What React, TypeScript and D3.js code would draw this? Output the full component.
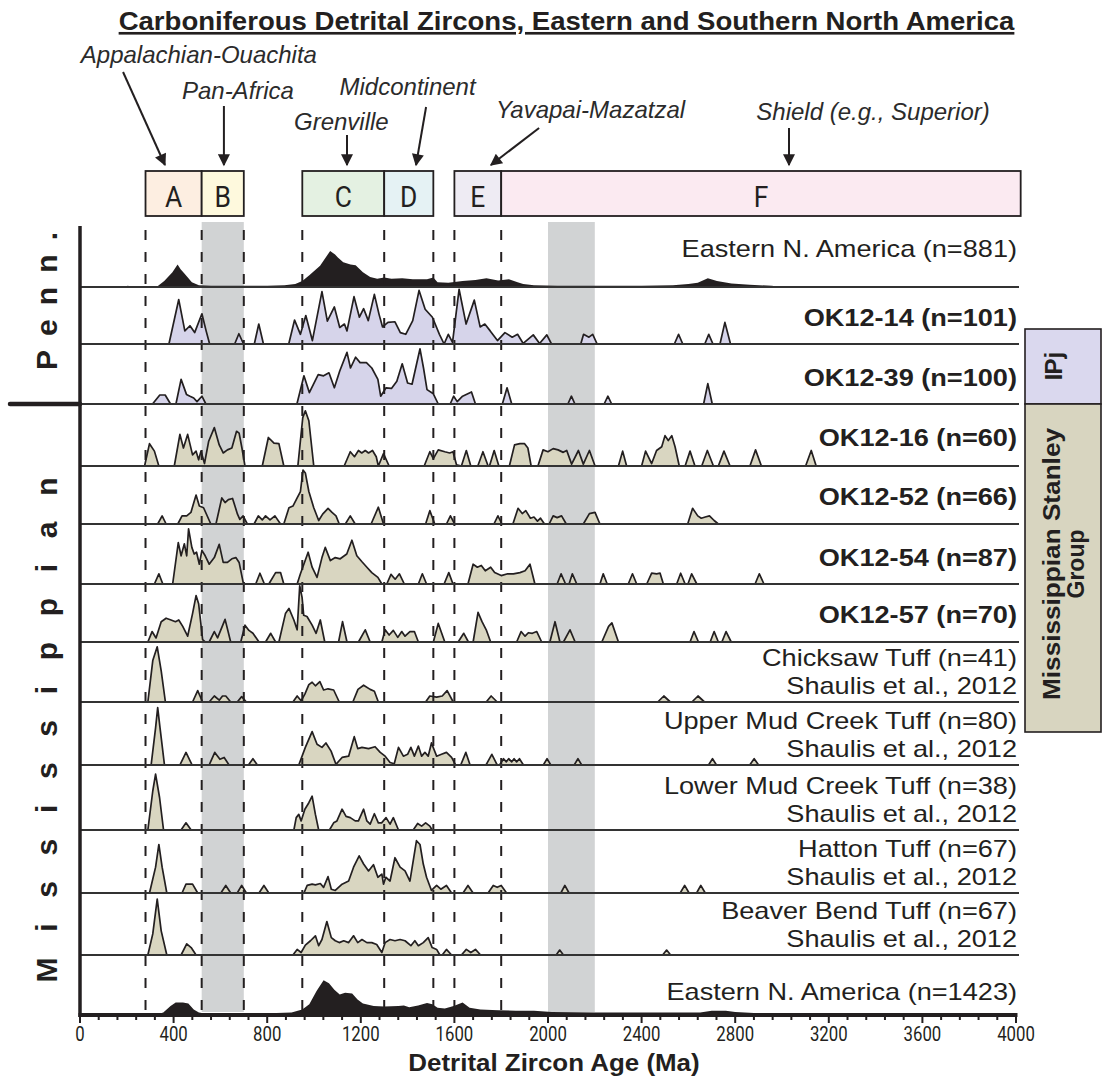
import React from "react";
import * as d3 from "d3";

// ---------------- DATA ----------------
const ageTicks = [0, 400, 800, 1200, 1600, 2000, 2400, 2800, 3200, 3600, 4000];
const minorTickStep = 80;

const provinceNames = ["A", "B", "C", "D", "E", "F"];
const provinceStart = [280, 520, 950, 1300, 1600, 1800];
const provinceEnd = [520, 700, 1300, 1510, 1800, 4020];

const boundaryAges = [280, 520, 700, 950, 1300, 1510, 1600, 1800];
const highlightBands: [number, number][] = [[520, 700], [2000, 2200]];

const sourceLabels = ["Appalachian-Ouachita", "Pan-Africa", "Grenville", "Midcontinent", "Yavapai-Mazatzal", "Shield (e.g., Superior)"];
const sourceLabelAge = [508, 675, 1117, 1400, 2182, 3389];
const sourceArrowFromAge = [184, 615, 1141, 1479, 1962, 3030];
const sourceArrowToAge = [363, 615, 1141, 1436, 1756, 3030];

const sampleLabels = [
  "Eastern N. America (n=881)", "OK12-14 (n=101)", "OK12-39 (n=100)", "OK12-16 (n=60)",
  "OK12-52 (n=66)", "OK12-54 (n=87)", "OK12-57 (n=70)", "Chicksaw Tuff (n=41)",
  "Upper Mud Creek Tuff (n=80)", "Lower Mud Creek Tuff (n=38)", "Hatton Tuff (n=67)",
  "Beaver Bend Tuff (n=67)", "Eastern N. America (n=1423)",
];
const sampleSources = ["", "", "", "", "", "", "", "Shaulis et al., 2012", "Shaulis et al., 2012", "Shaulis et al., 2012", "Shaulis et al., 2012", "Shaulis et al., 2012", ""];
const sampleGroups = ["ref", "penn", "penn", "miss", "miss", "miss", "miss", "tuff", "tuff", "tuff", "tuff", "tuff", "ref"];

// relative probability density: [age (Ma), density 0..1]
const eastern881 = [[150,0],[190,0.01],[205,0.02],[225,0],[330,0.01],[360,0.1],[395,0.25],[417,0.38],[430,0.3],[448,0.22],[478,0.08],[508,0.03],[560,0.02],[700,0.02],[800,0.02],[874,0.03],[920,0.05],[950,0.1],[980,0.2],[1026,0.36],[1050,0.5],[1069,0.61],[1090,0.55],[1102,0.5],[1125,0.42],[1156,0.38],[1178,0.37],[1209,0.25],[1240,0.17],[1270,0.14],[1300,0.16],[1331,0.14],[1377,0.15],[1422,0.13],[1483,0.13],[1510,0.16],[1528,0.08],[1574,0.07],[1635,0.1],[1690,0.12],[1737,0.15],[1787,0.11],[1833,0.13],[1870,0.08],[1894,0.05],[1940,0.03],[2040,0.02],[2200,0.02],[2400,0.02],[2534,0.03],[2600,0.05],[2640,0.07],[2683,0.15],[2722,0.1],[2784,0.06],[2862,0.04],[2956,0.02],[3000,0]];
const ok1214 = [[380,0],[422,0.78],[448,0.23],[470,0.32],[490,0.2],[521,0.53],[539,0.23],[554,0],[661,0],[679,0.18],[699,0],[745,0],[764,0.35],[784,0],[892,0],[917,0.42],[942,0.17],[965,0.5],[993,0.06],[1034,0.92],[1057,0.4],[1087,0.65],[1110,0.29],[1130,0.35],[1141,0.23],[1171,0.83],[1194,0.47],[1212,0.62],[1232,0.41],[1258,0.87],[1278,0.52],[1293,0.3],[1316,0.38],[1346,0.39],[1369,0.2],[1392,0.17],[1422,0.41],[1449,0.94],[1475,0.61],[1506,0.47],[1536,0.17],[1556,0],[1574,0.17],[1592,0.03],[1620,0.96],[1650,0.35],[1685,0.77],[1710,0.3],[1730,0.35],[1753,0.23],[1784,0.06],[1816,0.2],[1847,0.12],[1870,0.17],[1894,0.01],[1937,0.16],[1964,0.01],[1995,0.16],[2015,0],[2140,0],[2152,0.17],[2175,0.12],[2191,0.17],[2210,0],[2540,0],[2558,0.17],[2576,0],[2670,0],[2687,0.17],[2705,0],[2735,0],[2756,0.38],[2780,0]];
const ok1239 = [[310,0],[341,0.15],[364,0.15],[387,0],[410,0],[432,0.41],[455,0.16],[470,0.13],[486,0.1],[500,0.04],[521,0.13],[538,0],[927,0],[957,0.47],[980,0.19],[1018,0.49],[1041,0.47],[1064,0.52],[1087,0.27],[1110,0.55],[1141,0.86],[1156,0.6],[1178,0.78],[1197,0.69],[1224,0.69],[1247,0.6],[1273,0.41],[1285,0.13],[1308,0.27],[1331,0.26],[1354,0.38],[1377,0.67],[1400,0.35],[1419,0.33],[1453,0.92],[1468,0.6],[1483,0.24],[1510,0.17],[1531,0],[1582,0],[1597,0.13],[1612,0.04],[1635,0.13],[1673,0.2],[1690,0],[1805,0],[1825,0.27],[1845,0],[2085,0],[2100,0.13],[2115,0],[2240,0],[2256,0.13],[2272,0],[2665,0],[2683,0.34],[2702,0]];
const ok1216 = [[276,0],[297,0.36],[318,0.24],[337,0],[403,0],[427,0.51],[442,0.29],[460,0.51],[481,0.18],[496,0.24],[507,0.1],[517,0.24],[532,0.04],[550,0.4],[574,0.62],[595,0.34],[612,0.21],[630,0.26],[649,0.29],[669,0.56],[680,0.53],[692,0.29],[705,0],[779,0],[805,0.46],[829,0.37],[850,0.36],[871,0],[931,0],[952,0.78],[963,0.89],[978,0.73],[999,0],[1129,0],[1155,0.23],[1173,0.15],[1190,0.25],[1204,0.21],[1219,0.25],[1233,0.21],[1250,0.25],[1266,0.15],[1275,0],[1297,0.2],[1321,0],[1471,0],[1495,0.23],[1510,0.12],[1531,0.26],[1559,0.23],[1580,0.21],[1594,0.23],[1609,0.02],[1630,0],[1651,0.25],[1670,0],[1700,0],[1722,0.23],[1744,0],[1750,0],[1770,0.25],[1790,0],[1835,0],[1857,0.34],[1880,0.36],[1900,0.36],[1914,0.29],[1928,0],[1957,0],[1979,0.26],[2000,0.23],[2022,0.28],[2043,0.26],[2065,0.22],[2080,0.25],[2101,0.03],[2130,0.25],[2151,0.03],[2177,0.25],[2201,0],[2301,0],[2319,0.24],[2336,0],[2400,0],[2417,0.24],[2443,0.04],[2464,0.25],[2486,0.31],[2500,0.49],[2514,0.41],[2529,0.49],[2543,0.31],[2561,0],[2586,0],[2607,0.24],[2628,0],[2657,0],[2681,0.25],[2707,0],[2728,0],[2752,0.24],[2778,0],[2863,0],[2887,0.26],[2912,0],[3101,0],[3125,0.25],[3146,0]];
const ok1252 = [[332,0],[351,0.14],[368,0],[418,0],[436,0.14],[456,0.14],[474,0.2],[496,0.5],[510,0.31],[528,0.28],[559,0],[581,0],[606,0.45],[620,0.37],[634,0.42],[652,0.44],[673,0.17],[683,0.08],[697,0.14],[715,0],[744,0],[762,0.14],[779,0.07],[793,0.14],[812,0.07],[833,0.14],[857,0],[871,0],[893,0.28],[910,0.31],[928,0.45],[942,0.56],[953,0.93],[963,0.88],[978,0.56],[999,0.28],[1020,0.06],[1037,0.17],[1060,0.27],[1077,0.2],[1094,0.14],[1108,0],[1134,0],[1155,0.14],[1176,0],[1244,0],[1275,0.29],[1297,0],[1477,0],[1495,0.23],[1516,0],[1566,0],[1583,0.14],[1601,0],[1769,0],[1786,0.14],[1803,0],[1850,0],[1872,0.27],[1890,0.18],[1905,0.23],[1925,0.1],[1940,0.12],[1955,0.05],[1968,0.1],[1985,0],[2005,0],[2022,0.14],[2039,0.11],[2058,0.14],[2078,0],[2151,0],[2177,0.18],[2201,0.2],[2222,0],[2597,0],[2618,0.27],[2640,0.14],[2655,0.1],[2672,0.12],[2690,0.14],[2710,0.06],[2728,0]];
const ok1254 = [[318,0],[337,0.17],[354,0],[396,0],[420,0.69],[432,0.47],[446,0.67],[456,0.47],[464,0.92],[478,0.61],[488,0.5],[498,0.53],[510,0.33],[521,0.56],[535,0.47],[552,0.33],[574,0.44],[595,0.66],[612,0.36],[630,0.36],[649,0.42],[666,0.44],[680,0.36],[697,0.03],[705,0],[751,0],[769,0.18],[788,0],[807,0],[836,0.19],[857,0.19],[871,0],[928,0],[942,0.17],[952,0.28],[975,0.53],[992,0.28],[1013,0.11],[1034,0.44],[1048,0.61],[1070,0.39],[1091,0.44],[1112,0.42],[1140,0.5],[1162,0.73],[1183,0.47],[1205,0.37],[1226,0.28],[1247,0.19],[1273,0.11],[1290,0],[1311,0],[1329,0.16],[1347,0.08],[1365,0.17],[1386,0],[1446,0],[1463,0.17],[1481,0],[1556,0],[1576,0.19],[1594,0],[1658,0],[1680,0.33],[1698,0.28],[1715,0.31],[1732,0.22],[1755,0.28],[1772,0.19],[1800,0.14],[1828,0.17],[1852,0.17],[1880,0.19],[1902,0.22],[1923,0.33],[1944,0],[2039,0],[2056,0.17],[2075,0],[2090,0],[2104,0.17],[2123,0],[2222,0],[2236,0.17],[2253,0],[2343,0],[2361,0.17],[2379,0],[2422,0],[2443,0.18],[2464,0.17],[2479,0.18],[2493,0],[2550,0],[2567,0.18],[2586,0],[2598,0],[2614,0.17],[2636,0],[2885,0],[2903,0.17],[2923,0]];
const ok1257 = [[290,0],[308,0.18],[325,0.07],[347,0.35],[368,0.41],[389,0.38],[408,0.35],[422,0.38],[439,0.27],[460,0.1],[481,0.49],[496,0.8],[507,0.66],[524,0.04],[535,0],[552,0],[574,0.18],[588,0.07],[620,0.39],[644,0],[687,0],[705,0.29],[722,0.2],[739,0.15],[765,0],[793,0],[815,0.15],[836,0],[850,0],[878,0.49],[893,0.58],[914,0.38],[928,0.21],[939,0.97],[949,0.77],[956,0.46],[970,0.44],[992,0.29],[1009,0.15],[1027,0.38],[1046,0],[1105,0],[1122,0.35],[1141,0],[1190,0],[1219,0.21],[1240,0],[1290,0],[1304,0.21],[1321,0.12],[1339,0.2],[1358,0.08],[1375,0.18],[1389,0.1],[1410,0.18],[1429,0.18],[1446,0],[1510,0],[1531,0.32],[1559,0],[1616,0],[1640,0.15],[1660,0],[1680,0],[1701,0.51],[1718,0.35],[1736,0.21],[1755,0],[1866,0],[1885,0.18],[1902,0.1],[1916,0.16],[1933,0.15],[1952,0.18],[1973,0],[2008,0],[2030,0.35],[2051,0],[2066,0],[2094,0.21],[2116,0],[2230,0],[2259,0.27],[2273,0.33],[2301,0],[2607,0],[2624,0.18],[2643,0],[2693,0],[2710,0.18],[2728,0],[2743,0],[2761,0.18],[2783,0]];
const chicksaw = [[290,0],[311,0.69],[330,0.92],[347,0.52],[365,0],[481,0],[503,0.19],[524,0],[552,0],[574,0.1],[595,0.03],[609,0.1],[623,0.1],[644,0],[672,0],[691,0.09],[711,0],[910,0],[928,0.1],[945,0.02],[961,0.13],[978,0.29],[992,0.33],[1006,0.27],[1025,0.34],[1041,0.2],[1060,0.22],[1084,0.2],[1108,0],[1166,0],[1188,0.21],[1212,0.28],[1240,0.21],[1258,0.18],[1275,0],[1477,0],[1495,0.1],[1524,0.08],[1548,0.1],[1569,0.19],[1595,0],[1736,0],[1757,0.1],[1783,0],[2469,0],[2495,0.1],[2523,0],[2615,0],[2641,0.1],[2669,0]];
const upperMudCreek = [[304,0],[323,0.59],[332,0.91],[342,0.59],[361,0],[427,0],[453,0.2],[479,0],[552,0],[576,0.2],[598,0.09],[616,0.12],[637,0],[720,0],[739,0.1],[758,0],[935,0],[963,0.28],[992,0.53],[1013,0.33],[1034,0.28],[1051,0.35],[1073,0.22],[1094,0.01],[1120,0.12],[1148,0.14],[1172,0.45],[1187,0.26],[1205,0.28],[1233,0.26],[1261,0.29],[1283,0.2],[1304,0.14],[1325,0.04],[1343,0.02],[1361,0.28],[1382,0.14],[1400,0.17],[1414,0.28],[1429,0.14],[1446,0.3],[1460,0.14],[1474,0.2],[1488,0.14],[1502,0.35],[1524,0.14],[1545,0.17],[1566,0.2],[1588,0.12],[1605,0],[1627,0],[1649,0.2],[1667,0],[1735,0],[1760,0.17],[1783,0],[1793,0],[1810,0.1],[1822,0.05],[1832,0.1],[1845,0.05],[1855,0.1],[1866,0.05],[1878,0.1],[1895,0],[1980,0],[1996,0.1],[2012,0],[2112,0],[2128,0.1],[2144,0],[2686,0],[2703,0.1],[2720,0],[2862,0],[2881,0.1],[2900,0]];
const lowerMudCreek = [[290,0],[311,0.6],[323,0.86],[340,0.5],[357,0],[432,0],[453,0.11],[475,0],[914,0],[924,0.19],[935,0.24],[945,0.14],[961,0.32],[978,0.42],[992,0.52],[1006,0.24],[1020,0],[1066,0],[1084,0.11],[1098,0.14],[1120,0.32],[1137,0.21],[1155,0.19],[1176,0.14],[1190,0.14],[1212,0.32],[1226,0.14],[1240,0.09],[1258,0.25],[1275,0.11],[1289,0.11],[1308,0.19],[1325,0.09],[1339,0.19],[1361,0],[1424,0],[1443,0.1],[1460,0.06],[1477,0.11],[1495,0.06],[1505,0]];
const hatton = [[297,0],[323,0.41],[337,0.77],[351,0.41],[371,0],[436,0],[453,0.14],[481,0.14],[503,0],[602,0],[623,0.12],[644,0],[672,0],[691,0.12],[711,0],[765,0],[786,0.12],[807,0],[957,0],[971,0.12],[992,0.14],[1006,0.13],[1027,0.15],[1041,0.09],[1060,0.26],[1074,0.06],[1091,0.04],[1120,0.14],[1148,0.19],[1169,0.41],[1193,0.59],[1212,0.46],[1233,0.35],[1254,0.45],[1273,0.25],[1290,0.3],[1297,0.14],[1307,0.25],[1325,0.19],[1346,0.56],[1368,0.41],[1389,0.35],[1410,0.19],[1438,0.83],[1453,0.77],[1467,0.46],[1481,0.25],[1502,0.04],[1524,0.12],[1542,0.06],[1566,0.12],[1588,0],[1637,0],[1658,0.12],[1680,0],[1744,0],[1766,0.12],[1783,0.09],[1800,0.12],[1823,0],[2055,0],[2072,0.12],[2090,0],[2565,0],[2584,0.12],[2603,0],[2635,0],[2653,0.12],[2672,0]];
const beaverBend = [[290,0],[311,0.34],[330,0.9],[347,0.39],[371,0],[432,0],[456,0.18],[475,0.12],[496,0],[910,0],[928,0.09],[945,0.04],[963,0.16],[985,0.23],[1006,0.31],[1020,0.15],[1034,0.25],[1055,0.54],[1074,0.28],[1091,0.23],[1108,0.2],[1127,0.23],[1148,0.2],[1169,0.31],[1187,0.2],[1205,0.25],[1226,0.2],[1247,0.2],[1268,0.17],[1290,0.04],[1304,0.2],[1325,0.25],[1346,0.23],[1368,0.25],[1389,0.23],[1414,0.15],[1431,0.23],[1446,0.15],[1467,0.2],[1488,0.28],[1505,0.12],[1524,0.09],[1538,0],[1548,0],[1566,0.09],[1588,0],[1630,0],[1651,0.09],[1670,0.04],[1690,0.09],[1712,0],[2035,0],[2050,0.08],[2066,0],[2490,0],[2507,0.08],[2524,0]];
const eastern1423 = [[200,0],[326,0.01],[356,0.04],[387,0.15],[409,0.21],[440,0.21],[463,0.19],[486,0.09],[508,0.04],[539,0.02],[722,0.02],[904,0.04],[950,0.09],[980,0.18],[1011,0.4],[1041,0.58],[1064,0.53],[1087,0.42],[1110,0.34],[1133,0.37],[1163,0.36],[1186,0.26],[1209,0.19],[1255,0.15],[1300,0.14],[1361,0.15],[1384,0.16],[1407,0.13],[1445,0.16],[1483,0.2],[1506,0.18],[1528,0.12],[1559,0.11],[1597,0.15],[1635,0.21],[1665,0.12],[1711,0.09],[1787,0.08],[1863,0.07],[1940,0.07],[2016,0.05],[2200,0.04],[2500,0.04],[2650,0.04],[2700,0.07],[2760,0.07],[2800,0.05],[2900,0.03],[3040,0.01],[3100,0]];

const sampleSeries = [eastern881, ok1214, ok1239, ok1216, ok1252, ok1254, ok1257, chicksaw, upperMudCreek, lowerMudCreek, hatton, beaverBend, eastern1423];

// ---------------- LAYOUT / STYLE ----------------
const W = 1102;
const H = 1078;
const PLOT_LEFT = 80;
const PLOT_RIGHT = 1016;
const PLOT_TOP = 228;
const panelBaselines = [287, 344, 404, 466, 524, 584, 642, 702, 765, 830, 893, 955, 1015];
const labelOffsets = [-30, -18, -18, -20, -19, -18, -19, -36, -36, -36, -36, -36, -15];
const provinceFills = ["#fdeee1", "#fef9dd", "#e4f1e2", "#e5f2f4", "#eeebf3", "#fbeaf1"];
const sourceLabelBaselines = [63, 99, 130, 95, 118, 120];
const sourceArrowY0 = [72, 106, 135, 107, 128, 128];
const ARROW_TIP_Y = 165;
const BOX_TOP = 171;
const BOX_BOTTOM = 216;
const INK = "#231f20";
const groupFill: Record<string, string> = { ref: "#231f20", penn: "#d6d4ea", miss: "#d9d6c1", tuff: "#d9d6c1" };
const groupStroke: Record<string, string> = { ref: "none", penn: INK, miss: INK, tuff: INK };
const SANS = "'Liberation Sans', Arial, Helvetica, sans-serif";

export default function App() {
  const x = d3.scaleLinear().domain([0, 4000]).range([PLOT_LEFT, PLOT_RIGHT]);
  const axisY = panelBaselines[panelBaselines.length - 1];
  const minorTicks = d3.range(0, 4001, minorTickStep);

  return (
    <svg width={W} height={H} viewBox={`0 0 ${W} ${H}`} style={{ display: "block", position: "absolute", left: 0, top: 0, background: "#fff" }} fontFamily={SANS}>
      <defs>
        <marker id="arrowHead" viewBox="0 0 10 10" refX="9" refY="5" markerWidth="14" markerHeight="12" markerUnits="userSpaceOnUse" orient="auto">
          <path d="M0,0 L10,5 L0,10 z" fill={INK} />
        </marker>
      </defs>
      <rect x={0} y={0} width={W} height={H} fill="#fff" />

      {/* Title */}
      <g transform={`translate(${(115 + 1018) / 2},30) scale(1.04,1)`}>
        <text textAnchor="middle" fontSize={26.5} fontWeight="bold" fill={INK} textDecoration="underline">
          Carboniferous Detrital Zircons, Eastern and Southern North America
        </text>
      </g>

      {/* gray highlight bands */}
      {highlightBands.map(([a, b], i) => (
        <rect key={"band" + i} x={x(a)} y={222} width={x(b) - x(a)} height={axisY - 3 - 222} fill="#d1d3d4" />
      ))}

      {/* province boxes */}
      {provinceNames.map((n, i) => (
        <g key={"prov" + n}>
          <rect x={x(provinceStart[i])} y={BOX_TOP} width={x(provinceEnd[i]) - x(provinceStart[i])} height={BOX_BOTTOM - BOX_TOP} fill={provinceFills[i]} stroke={INK} strokeWidth={1.8} />
          <g transform={`translate(${(x(provinceStart[i]) + x(provinceEnd[i])) / 2},${BOX_TOP + 36}) scale(0.88,1)`}>
            <text textAnchor="middle" fontFamily="Roboto, 'Open Sans', sans-serif" fontSize={30} fill={INK}>{n}</text>
          </g>
        </g>
      ))}

      {/* source labels + arrows */}
      {sourceLabels.map((s, i) => (
        <g key={"src" + i}>
          <text x={x(sourceLabelAge[i])} y={sourceLabelBaselines[i]} textAnchor="middle" fontStyle="italic" fontSize={24} fill="#2b2b2b">{s}</text>
          <line x1={x(sourceArrowFromAge[i])} y1={sourceArrowY0[i]} x2={x(sourceArrowToAge[i])} y2={ARROW_TIP_Y} stroke={INK} strokeWidth={2} markerEnd="url(#arrowHead)" />
        </g>
      ))}

      {/* density panels */}
      {sampleSeries.map((series, i) => {
        const base = panelBaselines[i];
        const top = i === 0 ? PLOT_TOP : panelBaselines[i - 1];
        const y = d3.scaleLinear().domain([0, 1]).range([base, top]);
        const area = d3.area<number[]>().x((d) => x(d[0])).y0(base).y1((d) => y(d[1])).curve(d3.curveLinear);
        const line = d3.line<number[]>().x((d) => x(d[0])).y((d) => y(d[1])).curve(d3.curveLinear);
        const g = sampleGroups[i];
        return (
          <g key={"panel" + i}>
            <path d={area(series as number[][]) || ""} fill={groupFill[g]} />
            {groupStroke[g] !== "none" && (
              <path d={line(series as number[][]) || ""} fill="none" stroke={groupStroke[g]} strokeWidth={1.7} strokeLinejoin="round" />
            )}
          </g>
        );
      })}

      {/* dashed province boundaries */}
      {boundaryAges.map((a) => (
        <line key={"dash" + a} x1={x(a)} x2={x(a)} y1={230} y2={axisY - 3} stroke={INK} strokeWidth={2} strokeDasharray="10,12" />
      ))}

      {/* panel baselines */}
      {panelBaselines.slice(0, -1).map((b, i) => (
        <line key={"base" + i} x1={PLOT_LEFT} x2={PLOT_RIGHT + 3} y1={b} y2={b} stroke="#333" strokeWidth={1.8} />
      ))}

      {/* sample labels */}
      {sampleLabels.map((s, i) => {
        const b = panelBaselines[i] + labelOffsets[i];
        const bold = sampleGroups[i] === "penn" || sampleGroups[i] === "miss";
        return (
          <g key={"lab" + i}>
            <g transform={`translate(${PLOT_RIGHT + 1},${b}) scale(1.18,1)`}>
              <text textAnchor="end" fontSize={23} fontWeight={bold ? "bold" : "normal"} fill={INK}>{s}</text>
            </g>
            {sampleSources[i] && (
              <g transform={`translate(${PLOT_RIGHT + 1},${b + 28}) scale(1.18,1)`}>
                <text textAnchor="end" fontSize={23} fill={INK}>{sampleSources[i]}</text>
              </g>
            )}
          </g>
        );
      })}

      {/* left vertical axis */}
      <line x1={PLOT_LEFT} x2={PLOT_LEFT} y1={226} y2={axisY + 2} stroke={INK} strokeWidth={3.5} />
      <line x1={10} x2={PLOT_LEFT} y1={panelBaselines[2]} y2={panelBaselines[2]} stroke={INK} strokeWidth={4.5} strokeLinecap="round" />

      {/* period labels */}
      <text transform={`translate(57,301) rotate(-90)`} textAnchor="middle" fontSize={30} fontWeight="bold" fill={INK} textLength={138} lengthAdjust="spacing">Penn.</text>
      <text transform={`translate(57,730) rotate(-90)`} textAnchor="middle" fontSize={30} fontWeight="bold" fill={INK} textLength={505} lengthAdjust="spacing">Mississippian</text>

      {/* bottom axis */}
      <line x1={PLOT_LEFT - 1.5} x2={PLOT_RIGHT + 1.5} y1={axisY} y2={axisY} stroke={INK} strokeWidth={4} />
      {minorTicks.map((t) => (
        <line key={"mt" + t} x1={x(t)} x2={x(t)} y1={axisY} y2={axisY + (t % 400 === 0 ? 8 : 5)} stroke={INK} strokeWidth={2} />
      ))}
      {ageTicks.map((t) => (
        <g key={"tl" + t} transform={`translate(${x(t)},${axisY + 26}) scale(0.84,1)`}>
          <text textAnchor="middle" fontFamily="Roboto, 'Open Sans', sans-serif" fontSize={20} fill={INK}>{t}</text>
        </g>
      ))}
      <g transform={`translate(554,1071) scale(1.08,1)`}>
        <text textAnchor="middle" fontSize={24} fontWeight="bold" fill={INK}>Detrital Zircon Age (Ma)</text>
      </g>

      {/* stratigraphic unit boxes */}
      <rect x={1025} y={329} width={76} height={panelBaselines[2] - 329} fill="#dad8ee" stroke={INK} strokeWidth={1.6} />
      <rect x={1025} y={panelBaselines[2]} width={76} height={732 - panelBaselines[2]} fill="#d8d5c0" stroke={INK} strokeWidth={1.6} />
      <text transform={`translate(1062,366) rotate(-90)`} textAnchor="middle" fontSize={24} fontWeight="bold" fill={INK}>
        <tspan>I</tspan><tspan dx={-1}>P</tspan><tspan>j</tspan>
      </text>
      <text transform={`translate(1060,564) rotate(-90)`} textAnchor="middle" fontSize={23} fontWeight="bold" fill={INK} textLength={272} lengthAdjust="spacingAndGlyphs">Mississippian Stanley</text>
      <text transform={`translate(1084,564) rotate(-90)`} textAnchor="middle" fontSize={23} fontWeight="bold" fill={INK}>Group</text>
    </svg>
  );
}
